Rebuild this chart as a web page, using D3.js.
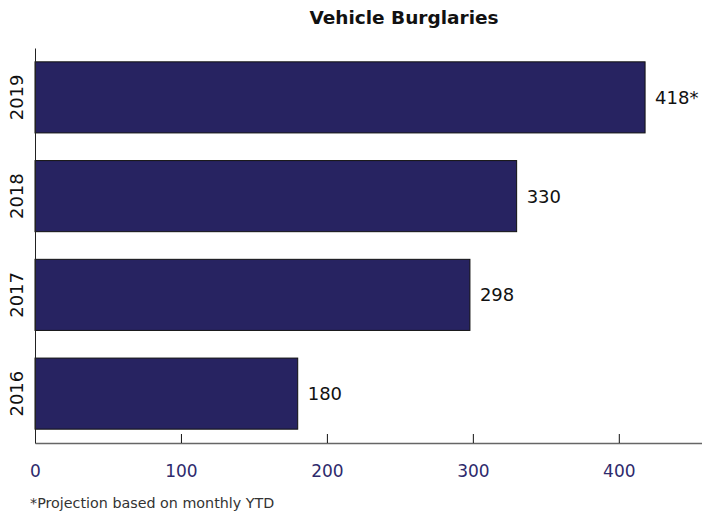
<!DOCTYPE html>
<html lang="en">
<head>
<meta charset="UTF-8">
<title>Vehicle Burglaries</title>
<script src="https://d3js.org/d3.v7.min.js"></script>
<style>
  body { margin: 0; background: #fff; }
  svg text { font-family: "Century Gothic", "DejaVu Sans", sans-serif; }
</style>
</head>
<body>
<div id="chart"></div>
<script>
const years = ["2019", "2018", "2017", "2016"];
const counts = [418, 330, 298, 180];
const countLabels = ["418*", "330", "298", "180"];
const xTicks = [0, 100, 200, 300, 400];
const title = "Vehicle Burglaries";
const footnote = "*Projection based on monthly YTD";

const W = 702, H = 512;
const margin = {top: 48, right: 0, bottom: 69, left: 35};

const svg = d3.select("#chart").append("svg")
  .attr("width", W).attr("height", H);

const x = d3.scaleLinear().domain([0, 457]).range([margin.left, W - margin.right]);
const y = d3.scaleBand().domain(years).range([margin.top, H - margin.bottom])
  .paddingInner(0.28).paddingOuter(0.14);

// title
svg.append("text")
  .attr("x", 404).attr("y", 24)
  .attr("text-anchor", "middle")
  .attr("font-weight", "bold")
  .attr("font-size", 18.5)
  .attr("fill", "#111")
  .text(title);

// bars
svg.selectAll("rect.bar")
  .data(years)
  .join("rect")
  .attr("class", "bar")
  .attr("x", x(0))
  .attr("y", d => y(d))
  .attr("width", (d, i) => x(counts[i]) - x(0))
  .attr("height", y.bandwidth())
  .attr("fill", "#272361")
  .attr("stroke", "#111")
  .attr("stroke-width", 1);

// value labels
svg.selectAll("text.val")
  .data(years)
  .join("text")
  .attr("class", "val")
  .attr("x", (d, i) => x(counts[i]) + 10)
  .attr("y", d => y(d) + y.bandwidth() / 2)
  .attr("dy", "0.36em")
  .attr("font-size", 18)
  .attr("fill", "#111")
  .text((d, i) => countLabels[i]);

// x axis
const xAxis = svg.append("g")
  .attr("transform", `translate(0,${H - margin.bottom})`)
  .call(d3.axisBottom(x).tickValues(xTicks).tickSize(-9).tickPadding(22).tickSizeOuter(0));
xAxis.select(".domain").attr("stroke", "#666").attr("stroke-width", 1.5);
xAxis.selectAll(".tick line").attr("stroke", "#111");
xAxis.selectAll(".tick text")
  .attr("font-size", 17)
  .attr("fill", "#2e2a6c")
  .attr("font-family", "'Century Gothic', 'DejaVu Sans', sans-serif");

// y axis
const yAxis = svg.append("g")
  .attr("transform", `translate(${margin.left},0)`)
  .call(d3.axisLeft(y).tickSize(0).tickPadding(0));
yAxis.select(".domain").attr("stroke", "#222");
yAxis.selectAll(".tick text")
  .attr("transform", "rotate(-90)")
  .attr("x", 0).attr("y", -18)
  .attr("dy", "0.36em")
  .attr("text-anchor", "middle")
  .attr("font-size", 18)
  .attr("fill", "#111")
  .attr("font-family", "'Century Gothic', 'DejaVu Sans', sans-serif");

// footnote
svg.append("text")
  .attr("x", 30).attr("y", 508)
  .attr("font-size", 14.3)
  .attr("fill", "#333")
  .text(footnote);
</script>
</body>
</html>
